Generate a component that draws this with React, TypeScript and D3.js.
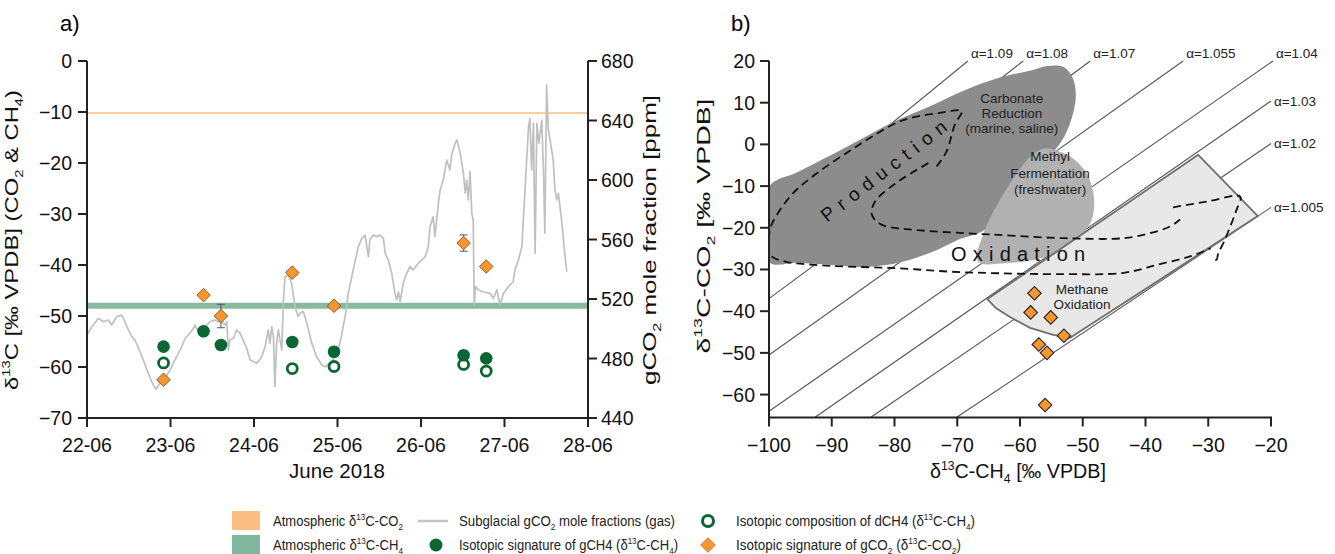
import React from 'react';
import * as d3 from 'd3';

const FONT = '"Liberation Sans", Arial, Helvetica, sans-serif';

// ---------- panel a : samples from the subglacial outlet, June 2018
const sampleTime = ['2018-06-22 22:00', '2018-06-23 09:30', '2018-06-23 14:30', '2018-06-24 11:00', '2018-06-24 23:00', '2018-06-26 12:15', '2018-06-26 18:45'];
const gCH4 = [-56.0, -53.0, -55.7, -55.1, -57.0, -57.7, -58.3];
const gCO2 = [-62.5, -45.9, -50.0, -41.5, -48.0, -35.7, -40.3];
const gCO2Err = [0, 0, 2.3, 0, 0, 1.6, 0];
const dCH4 = [-59.2, null, null, -60.3, -59.9, -59.5, -60.8];
const atmCO2 = -10.2;
const atmCH4 = -48;

// [hours since 22-06 00:00, gCO2 ppm]
const moleFraction = [
  [0, 495.8], [1.4, 501.4], [3.3, 507.0], [4.7, 504.7], [6.1, 505.9], [7.1, 502.5], [8.5, 508.1], [10, 509.2],
  [10.9, 504.7], [11.9, 499.2], [12.9, 494.7], [13.8, 492.4], [14.8, 486.9], [16.2, 479.0], [17.6, 470.1],
  [18.6, 464.4], [19.8, 459.3], [21, 463.3], [22.4, 466.7], [23.9, 472.3], [24.8, 476.8], [25.8, 481.2],
  [27.2, 487.9], [28.2, 493.6], [29.6, 496.9], [30.6, 500.3], [31, 502.5], [32, 498.0], [33, 499.2], [33.9, 501.4],
  [35.4, 504.7], [36.8, 505.9], [37.7, 504.7], [38.7, 504.7], [39.7, 502.5], [40.2, 504.7], [40.6, 485.7],
  [41.1, 492.4], [42.1, 493.6], [43, 499.2], [44, 496.9], [44.9, 492.4], [45.9, 486.9], [46.9, 479.0],
  [48.8, 476.8], [50.2, 481.2], [51.2, 487.9], [52.1, 499.2], [52.6, 490.2], [53.1, 501.4], [53.6, 494.7],
  [54, 461.0], [54.5, 490.2], [55, 499.2], [56, 485.7], [56.4, 517.1], [56.9, 535.0], [57.9, 536.1], [58.8, 530.6],
  [59.8, 514.8], [60.7, 508.1], [61.2, 510.4], [62.2, 511.5], [63.2, 503.7], [64.6, 490.2], [66, 481.2],
  [67.5, 475.6], [68.4, 474.5], [69.9, 476.8], [71.3, 481.2], [72.7, 490.2], [74.2, 508.1], [75.1, 523.8],
  [76.5, 539.5], [78, 555.2], [79, 560.8], [79.9, 563.0], [80.9, 548.4], [81.3, 559.7], [82.3, 563.0],
  [83.3, 561.9], [84.2, 563.0], [85.2, 560.8], [85.7, 550.7], [86.6, 546.2], [87.6, 537.3], [88.5, 523.8],
  [89, 519.3], [89.5, 524.9], [90, 518.2], [90.9, 530.6], [91.9, 537.3], [92.8, 541.7], [93.8, 539.5],
  [95.2, 544.0], [97.2, 548.4], [98.1, 555.2], [98.6, 568.6], [99.5, 575.3], [100, 561.9], [101, 584.3],
  [101.5, 593.3], [102.4, 600.0], [103.4, 613.4], [104.3, 606.7], [104.8, 616.8], [105.8, 624.7], [106.3, 626.9],
  [107.2, 619.0], [108.2, 604.5], [108.7, 591.1], [109.1, 600.0], [109.6, 586.6], [110.1, 605.6], [110.6, 577.6],
  [111, 573.1], [111.3, 516.0], [111.7, 528.3], [112.5, 526.1], [113.9, 524.9], [115.8, 523.8], [116.8, 520.5],
  [117.8, 526.1], [118.7, 516.0], [119.7, 523.8], [121.1, 528.3], [122.5, 531.6], [123, 539.5], [124, 546.2],
  [125, 555.2], [125.4, 573.1], [125.9, 593.3], [126.9, 635.8], [127.3, 641.5], [127.8, 606.7], [128.3, 638.1],
  [128.8, 550.7], [129.3, 638.1], [129.9, 624.7], [130.7, 640.3], [131.2, 606.7], [131.6, 564.2], [132.1, 663.9],
  [132.6, 633.6], [133.1, 626.9], [134, 613.4], [134.5, 593.3], [135, 586.6], [135.5, 591.1], [136.4, 573.1],
  [137.4, 548.4], [137.9, 538.4],
];

const deltaTicksA = [0, -10, -20, -30, -40, -50, -60, -70];
const ppmTicks = [440, 480, 520, 560, 600, 640, 680];

// ---------- panel b : d13C-CO2 vs d13C-CH4
const alphas = ['1.09', '1.08', '1.07', '1.055', '1.04', '1.03', '1.02', '1.005'];
// upper end of each fractionation line [d13C-CH4, d13C-CO2]
const alphaEnd = [[-68.3, 20], [-59.5, 20], [-48.8, 20], [-34.0, 20], [-19.7, 20], [-20, 10.4], [-20, 0.2], [-20, -15.1]];

const carbonateZone = [
  [-100, -10.2], [-95.4, -6.6], [-90, -2.5], [-84.7, 1.8], [-79.4, 5.9], [-74, 9.4], [-68.8, 13], [-63.5, 15.9],
  [-58.1, 17.8], [-55.7, 18.8], [-53.1, 18.6], [-51.6, 15.9], [-51.1, 11.8], [-51.6, 7.1], [-52.8, 2.3],
  [-54.4, -1.3], [-58.4, -7.3], [-62.4, -14.5], [-65.6, -20.5], [-69.9, -22.9], [-74, -25.8], [-79.4, -28.4],
  [-84.7, -29.4], [-90, -28.9], [-95.4, -28.4], [-100, -28.2],
];
const methylZone = [
  [-57.1, -1.5], [-55.7, -0.9], [-52.0, -2.9], [-49.4, -6.9], [-48.3, -11.7], [-48.3, -16.5], [-49.4, -20.5],
  [-51.5, -23.5], [-54.5, -26.2], [-58.5, -27.9], [-63.5, -28.6], [-66.1, -28.6], [-66.9, -27.3], [-66.1, -22.5],
  [-64.5, -16.9], [-62.4, -11.3], [-60.3, -6.5], [-58.6, -3.3],
];
const oxidationZone = [
  [-65.2, -37.1], [-31.6, -2.5], [-22.1, -17.2], [-52.0, -46.4], [-54.7, -45.7], [-58.4, -44.0], [-61.6, -41.4],
  [-63.8, -39.3],
];
const productionInner = [
  [-74.6, -4.5], [-79.4, -8.9], [-83.1, -13.7], [-83.6, -16.9], [-82.0, -19.3], [-76.7, -20.5], [-68.8, -21.3],
  [-63.5, -21.7], [-52.8, -22.5], [-43.5, -22.5], [-39.3, -21.3], [-36.1, -19.7], [-34.5, -18.0],
];
const productionOuter = [
  [-73.3, -5.3], [-71.7, -1.7], [-70.4, 4.7], [-69.3, 8.0], [-73.0, 7.5], [-76.7, 6.6], [-79.4, 5.4], [-83.1, 2.3],
  [-87.4, -1.8], [-92.7, -7.3], [-96.4, -12.1], [-99.6, -19.3], [-100, -22.4], [-99.8, -26.5], [-97.4, -28.1],
  [-92.7, -28.9], [-87.4, -29.3], [-79.4, -29.7], [-71.4, -30.5], [-63.5, -30.9], [-54.2, -31.1], [-43.5, -30.8],
  [-38.2, -28.9], [-32.8, -26.8], [-29.6, -24.9],
];
const oxidationEnd = [
  [-35.6, -15.1], [-30.2, -13.7], [-24.9, -12.5], [-25.5, -15.7], [-26.5, -19.7], [-27.6, -23.7], [-28.4, -26.1],
  [-28.7, -27.7], [-29.4, -27.0],
];

const ch4TicksB = [-100, -90, -80, -70, -60, -50, -40, -30, -20];
const co2TicksB = [20, 10, 0, -10, -20, -30, -40, -50, -60];

const ORANGE = '#f7962f';
const GREEN = '#0b6633';

type Part = [string, ('sup' | 'sub')?];

function Rich({ parts, size }: { parts: Part[]; size: number }) {
  let off = 0;
  return (
    <>
      {parts.map(([s, k], i) => {
        const target = k === 'sup' ? -0.4 * size : k === 'sub' ? 0.25 * size : 0;
        const dy = target - off;
        off = target;
        return (
          <tspan key={i} dy={dy} fontSize={k ? size * 0.62 : size}>
            {s}
          </tspan>
        );
      })}
    </>
  );
}

export default function App() {
  const parseT = d3.timeParse('%Y-%m-%d %H:%M');
  const start = new Date(2018, 5, 22);
  const ax = d3.scaleTime().domain([start, new Date(2018, 5, 28)]).range([87, 588]);
  const ay = d3.scaleLinear().domain([-70, 0]).range([418, 61]);
  const ayR = d3.scaleLinear().domain([440, 680]).range([418, 61]);
  const bx = d3.scaleLinear().domain([-100, -20]).range([769, 1271]);
  const by = d3.scaleLinear().domain([-65.5, 20]).range([417.5, 61]);
  const fmt = d3.format('');
  const dayFmt = d3.timeFormat('%d-%m');

  const times = sampleTime.map((s) => parseT(s) as Date);
  const days = ax.ticks(d3.timeDay.every(1) as d3.TimeInterval);

  const moleLine = d3
    .line<number[]>()
    .x((d) => ax(d3.timeMinute.offset(start, Math.round(d[0] * 60))))
    .y((d) => ayR(d[1]));

  const zone = d3
    .line<number[]>()
    .x((d) => bx(d[0]))
    .y((d) => by(d[1]))
    .curve(d3.curveCatmullRomClosed.alpha(0.5));
  const box = d3
    .line<number[]>()
    .x((d) => bx(d[0]))
    .y((d) => by(d[1]))
    .curve(d3.curveLinearClosed);
  const dash = d3
    .line<number[]>()
    .x((d) => bx(d[0]))
    .y((d) => by(d[1]))
    .curve(d3.curveCatmullRom.alpha(0.5));

  const diamond = d3.symbol(d3.symbolSquare, 92)() as string;
  const alphaStart = (a: number) => {
    const co2 = a * 900 - 1000;
    return co2 >= -65.5 ? [-100, co2] : [(1000 - 65.5) / a - 1000, -65.5];
  };

  const tickFont = 19.5;
  const axisStroke = '#222';

  return (
    <svg
      width={1335}
      height={554}
      style={{ position: 'absolute', left: 0, top: 0, background: '#fff' }}
      fontFamily={FONT}
    >
      <defs>
        <clipPath id="clipB">
          <rect x={769} y={61} width={502} height={356.5} />
        </clipPath>
      </defs>

      {/* ======================= panel a ======================= */}
      <text x={60} y={31} fontSize={22}>a)</text>

      <line x1={ax.range()[0]} x2={ax.range()[1]} y1={ay(atmCO2)} y2={ay(atmCO2)} stroke="#f9bd83" strokeWidth={1.6} />
      <line x1={ax.range()[0]} x2={ax.range()[1]} y1={ay(atmCH4)} y2={ay(atmCH4)} stroke="#6aa985" strokeOpacity={0.8} strokeWidth={6} />

      <path d={moleLine(moleFraction) as string} fill="none" stroke="#c0c0c0" strokeWidth={1.7} strokeLinejoin="round" />

      {dCH4.map((v, i) =>
        v === null ? null : (
          <circle key={'o' + i} cx={ax(times[i])} cy={ay(v)} r={5} fill="#fff" stroke={GREEN} strokeWidth={2.8} />
        ),
      )}
      {gCH4.map((v, i) => (
        <circle key={'f' + i} cx={ax(times[i])} cy={ay(v)} r={6.3} fill={GREEN} />
      ))}
      {gCO2Err.map((e, i) =>
        e > 0 ? (
          <g key={'e' + i} stroke="#555" strokeWidth={1}>
            <line x1={ax(times[i])} x2={ax(times[i])} y1={ay(gCO2[i] - e)} y2={ay(gCO2[i] + e)} />
            <line x1={ax(times[i]) - 4} x2={ax(times[i]) + 4} y1={ay(gCO2[i] - e)} y2={ay(gCO2[i] - e)} />
            <line x1={ax(times[i]) - 4} x2={ax(times[i]) + 4} y1={ay(gCO2[i] + e)} y2={ay(gCO2[i] + e)} />
          </g>
        ) : null,
      )}
      {gCO2.map((v, i) => (
        <path
          key={'d' + i}
          d={diamond}
          transform={`translate(${ax(times[i])},${ay(v)}) rotate(45)`}
          fill={ORANGE}
          stroke="#7a4b1c"
          strokeWidth={0.8}
        />
      ))}

      {/* axes a */}
      <g stroke={axisStroke} strokeWidth={2} fill="none">
        <line x1={87} x2={87} y1={ay(0)} y2={ay(-70) + 1} />
        <line x1={588} x2={588} y1={ayR(680)} y2={ayR(440) + 1} />
        <line x1={86} x2={589} y1={418} y2={418} />
        {deltaTicksA.map((t) => (
          <line key={t} x1={78} x2={87} y1={ay(t)} y2={ay(t)} />
        ))}
        {ppmTicks.map((t) => (
          <line key={t} x1={588} x2={597} y1={ayR(t)} y2={ayR(t)} />
        ))}
        {days.map((d) => (
          <line key={+d} x1={ax(d)} x2={ax(d)} y1={418} y2={427} />
        ))}
      </g>
      <g fontSize={tickFont} fill="#111">
        {deltaTicksA.map((t) => (
          <text key={t} x={72} y={ay(t)} textAnchor="end" dominantBaseline="central">
            {fmt(t)}
          </text>
        ))}
        {ppmTicks.map((t) => (
          <text key={t} x={601} y={ayR(t)} dominantBaseline="central">
            {t}
          </text>
        ))}
        {days.map((d) => (
          <text key={+d} x={ax(d)} y={452} textAnchor="middle">
            {dayFmt(d)}
          </text>
        ))}
        <text x={337} y={478} textAnchor="middle" fontSize={20.5}>June 2018</text>
        <text transform="translate(18,240) rotate(-90)" textAnchor="middle" textLength={300} lengthAdjust="spacingAndGlyphs">
          <Rich size={19} parts={[['δ'], ['13', 'sup'], ['C [‰ VPDB] (CO'], ['2', 'sub'], [' & CH'], ['4', 'sub'], [')']]} />
        </text>
        <text transform="translate(656,240) rotate(-90)" textAnchor="middle" textLength={290} lengthAdjust="spacingAndGlyphs">
          <Rich size={19} parts={[['gCO'], ['2', 'sub'], [' mole fraction [ppm]']]} />
        </text>
      </g>

      {/* ======================= panel b ======================= */}
      <text x={731} y={31} fontSize={22}>b)</text>

      <g stroke="#555" strokeWidth={1.1}>
        {alphas.map((a, i) => {
          const s = alphaStart(+a);
          const e = alphaEnd[i];
          return <line key={a} x1={bx(s[0])} y1={by(s[1])} x2={bx(e[0])} y2={by(e[1])} />;
        })}
      </g>
      <g fontSize={13.5} fill="#222">
        {alphas.map((a, i) => {
          const e = alphaEnd[i];
          const top = e[1] >= 20;
          return (
            <text key={a} x={bx(e[0]) + 3} y={by(e[1]) - (top ? 8 : 0)} dominantBaseline="central">
              α={a}
            </text>
          );
        })}
      </g>

      <g clipPath="url(#clipB)">
        <path d={zone(carbonateZone) as string} fill="#8c8c8c" />
        <path d={zone(methylZone) as string} fill="#b1b1b1" />
        <path d={box(oxidationZone) as string} fill="#e8e8e8" stroke="#6f6f6f" strokeWidth={1.8} strokeLinejoin="round" />
        <g fill="none" stroke="#111" strokeWidth={1.8} strokeDasharray="8,5">
          <path d={dash(productionInner) as string} />
          <path d={dash(productionOuter) as string} />
          <path d={dash(oxidationEnd) as string} />
        </g>
      </g>

      <g fill="#222" fontSize={13.5} textAnchor="middle">
        <text x={bx(-61.3)} y={by(11.1)} dominantBaseline="central">Carbonate</text>
        <text x={bx(-61.3)} y={by(7.4)} dominantBaseline="central">Reduction</text>
        <text x={bx(-61.3)} y={by(3.7)} dominantBaseline="central">(marine, saline)</text>
        <text x={bx(-55.2)} y={by(-3.0)} dominantBaseline="central">Methyl</text>
        <text x={bx(-55.2)} y={by(-6.9)} dominantBaseline="central">Fermentation</text>
        <text x={bx(-55.2)} y={by(-10.7)} dominantBaseline="central">(freshwater)</text>
        <text x={bx(-50.1)} y={by(-34.7)} dominantBaseline="central">Methane</text>
        <text x={bx(-50.1)} y={by(-38.3)} dominantBaseline="central">Oxidation</text>
      </g>
      <text
        transform={`translate(${bx(-81.7)},${by(-6.4)}) rotate(-37.5)`}
        textAnchor="middle"
        dominantBaseline="central"
        fontSize={19}
        fill="#111"
        textLength={153}
        lengthAdjust="spacing"
      >
        Production
      </text>
      <text
        x={bx(-60.3)}
        y={by(-26.3)}
        textAnchor="middle"
        dominantBaseline="central"
        fontSize={20}
        fill="#111"
        textLength={134}
        lengthAdjust="spacing"
      >
        Oxidation
      </text>

      {gCO2.map((v, i) => (
        <path
          key={'b' + i}
          d={diamond}
          transform={`translate(${bx(gCH4[i])},${by(v)}) rotate(45)`}
          fill={ORANGE}
          stroke="#222"
          strokeWidth={1.1}
        />
      ))}

      {/* axes b */}
      <g stroke={axisStroke} strokeWidth={2} fill="none">
        <line x1={769} x2={769} y1={by(20)} y2={by(-65.5) + 1} />
        <line x1={768} x2={1272} y1={by(-65.5)} y2={by(-65.5)} />
        {co2TicksB.map((t) => (
          <line key={t} x1={760} x2={769} y1={by(t)} y2={by(t)} />
        ))}
        {ch4TicksB.map((t) => (
          <line key={t} x1={bx(t)} x2={bx(t)} y1={by(-65.5)} y2={by(-65.5) + 9} />
        ))}
      </g>
      <g fontSize={tickFont} fill="#111">
        {co2TicksB.map((t) => (
          <text key={t} x={755} y={by(t)} textAnchor="end" dominantBaseline="central">
            {fmt(t)}
          </text>
        ))}
        {ch4TicksB.map((t) => (
          <text key={t} x={bx(t)} y={452} textAnchor="middle">
            {fmt(t)}
          </text>
        ))}
        <text x={1018} y={478} textAnchor="middle" textLength={176} lengthAdjust="spacingAndGlyphs">
          <Rich size={19.5} parts={[['δ'], ['13', 'sup'], ['C-CH'], ['4', 'sub'], [' [‰ VPDB]']]} />
        </text>
        <text transform="translate(710,226) rotate(-90)" textAnchor="middle" textLength={255} lengthAdjust="spacingAndGlyphs">
          <Rich size={19} parts={[['δ'], ['13', 'sup'], ['C-CO'], ['2', 'sub'], [' [‰ VPDB]']]} />
        </text>
      </g>

      {/* ======================= legend ======================= */}
      <g fontSize={14} fill="#222">
        <rect x={232} y={511} width={28} height={19} fill="#fbbf86" />
        <rect x={232} y={535} width={28} height={19} fill="#80b69b" />
        <text x={273} y={526} textLength={130} lengthAdjust="spacingAndGlyphs">
          <Rich size={14} parts={[['Atmospheric δ'], ['13', 'sup'], ['C-CO'], ['2', 'sub']]} />
        </text>
        <text x={273} y={550} textLength={130} lengthAdjust="spacingAndGlyphs">
          <Rich size={14} parts={[['Atmospheric δ'], ['13', 'sup'], ['C-CH'], ['4', 'sub']]} />
        </text>

        <line x1={418} x2={448} y1={521} y2={521} stroke="#c4c4c4" strokeWidth={2.5} />
        <circle cx={436} cy={545} r={6.5} fill={GREEN} />
        <text x={459} y={526} textLength={216} lengthAdjust="spacingAndGlyphs">
          <Rich size={14} parts={[['Subglacial gCO'], ['2', 'sub'], [' mole fractions (gas)']]} />
        </text>
        <text x={459} y={550} textLength={219} lengthAdjust="spacingAndGlyphs">
          <Rich size={14} parts={[['Isotopic signature of gCH4 (δ'], ['13', 'sup'], ['C-CH'], ['4', 'sub'], [')']]} />
        </text>

        <circle cx={708} cy={521} r={5.5} fill="#fff" stroke={GREEN} strokeWidth={3} />
        <path d={d3.symbol(d3.symbolSquare, 110)() as string} transform="translate(708,545) rotate(45)" fill={ORANGE} stroke="#9a6a36" strokeWidth={0.6} />
        <text x={736} y={526} textLength={239} lengthAdjust="spacingAndGlyphs">
          <Rich size={14} parts={[['Isotopic composition of dCH4 (δ'], ['13', 'sup'], ['C-CH'], ['4', 'sub'], [')']]} />
        </text>
        <text x={736} y={550} textLength={225} lengthAdjust="spacingAndGlyphs">
          <Rich size={14} parts={[['Isotopic signature of gCO'], ['2', 'sub'], [' (δ'], ['13', 'sup'], ['C-CO'], ['2', 'sub'], [')']]} />
        </text>
      </g>
    </svg>
  );
}
